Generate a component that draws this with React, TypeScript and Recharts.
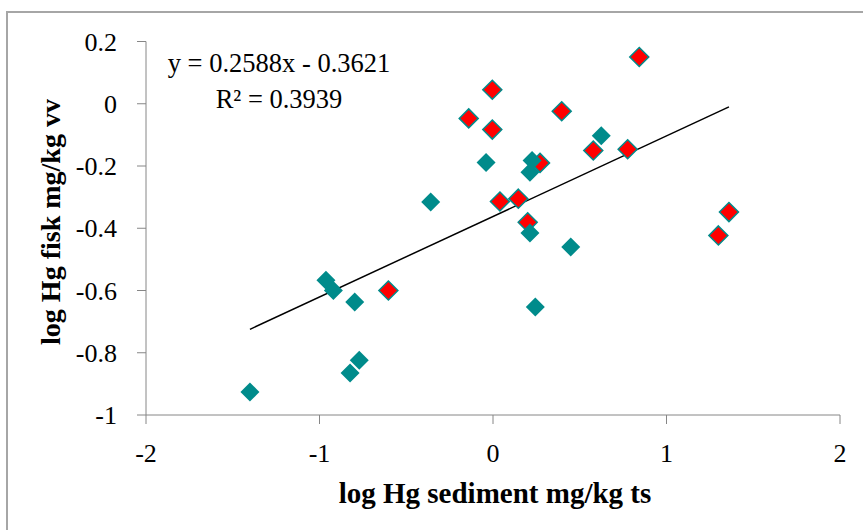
import { ScatterChart, Scatter, XAxis, YAxis, ReferenceLine } from 'recharts'

// log Hg sediment (x) / log Hg fish (y)
const redX = [0.843, -0.004, -0.14, -0.004, 0.396, 0.578, 0.776, 0.271, 0.04, 0.146, 0.2, 1.36, 1.299, -0.603]
const redY = [0.15, 0.045, -0.047, -0.083, -0.024, -0.15, -0.146, -0.19, -0.314, -0.305, -0.381, -0.348, -0.423, -0.6]
const tealX = [-0.04, -0.359, 0.624, 0.225, 0.213, 0.213, 0.448, -0.963, -0.92, -0.797, 0.244, -0.771, -0.824, -1.401]
const tealY = [-0.189, -0.316, -0.103, -0.182, -0.22, -0.415, -0.46, -0.567, -0.6, -0.637, -0.653, -0.824, -0.865, -0.926]

const xTicks = [-2, -1, 0, 1, 2]
const yTicks = [-1, -0.8, -0.6, -0.4, -0.2, 0, 0.2]

const slope = 0.2588
const intercept = -0.3621

const TEAL = '#008b8b'

const redData = redX.map((x, i) => ({ x, y: redY[i] }))
const tealData = tealX.map((x, i) => ({ x, y: tealY[i] }))

const allX = [...redX, ...tealX]
const xMin = Math.min(...allX)
const xMax = Math.max(...allX)

const Diamond = (fill: string, stroke?: string) => (props: any) => {
  const { cx, cy } = props
  const r = 9.5
  return (
    <path
      d={`M${cx},${cy - r}L${cx + r},${cy}L${cx},${cy + r}L${cx - r},${cy}Z`}
      fill={fill}
      stroke={stroke ?? 'none'}
      strokeWidth={stroke ? 1.5 : 0}
    />
  )
}

const font = '"Liberation Serif", "Times New Roman", serif'

export default function App() {
  return (
    <div style={{ position: 'absolute', left: 0, top: 0, width: 863, height: 530, overflow: 'hidden', background: '#fff' }}>
      <div style={{ position: 'absolute', left: 6, top: 11, width: 857, height: 519, borderLeft: '2px solid #a6a6a6', borderTop: '2px solid #a6a6a6' }} />
      <ScatterChart width={863} height={530} margin={{ top: 41.5, right: 23, bottom: 55, left: 86 }}>
        <XAxis
          type="number"
          dataKey="x"
          domain={[-2, 2]}
          ticks={xTicks}
          height={60}
          tickSize={9}
          tickMargin={20}
          stroke="#868686"
          tick={{ fill: '#000', fontSize: 26, fontFamily: font }}
        />
        <YAxis
          type="number"
          dataKey="y"
          domain={[-1, 0.2]}
          ticks={yTicks}
          width={60}
          tickSize={9}
          tickMargin={20}
          stroke="#868686"
          tick={{ fill: '#000', fontSize: 26, fontFamily: font }}
        />
        <Scatter data={redData} shape={Diamond('#ff0000', TEAL)} isAnimationActive={false} />
        <Scatter data={tealData} shape={Diamond(TEAL)} isAnimationActive={false} />
        <ReferenceLine
          segment={[
            { x: xMin, y: slope * xMin + intercept },
            { x: xMax, y: slope * xMax + intercept },
          ]}
          stroke="#000"
          strokeWidth={1.5}
          ifOverflow="visible"
        />
      </ScatterChart>
      <svg width={863} height={530} style={{ position: 'absolute', left: 0, top: 0, pointerEvents: 'none' }}>
        <g fontFamily={font} fill="#000">
          <text x={279} y={72} fontSize={26.5} textAnchor="middle">y = 0.2588x - 0.3621</text>
          <text x={279} y={108} fontSize={26.5} textAnchor="middle">R² = 0.3939</text>
          <text x={495} y={503} fontSize={29} fontWeight="bold" textAnchor="middle">log Hg sediment mg/kg ts</text>
          <text x={50} y={222} fontSize={28} fontWeight="bold" textAnchor="middle" dominantBaseline="central" transform="rotate(-90 50 222)">log Hg fisk mg/kg vv</text>
        </g>
      </svg>
    </div>
  )
}
